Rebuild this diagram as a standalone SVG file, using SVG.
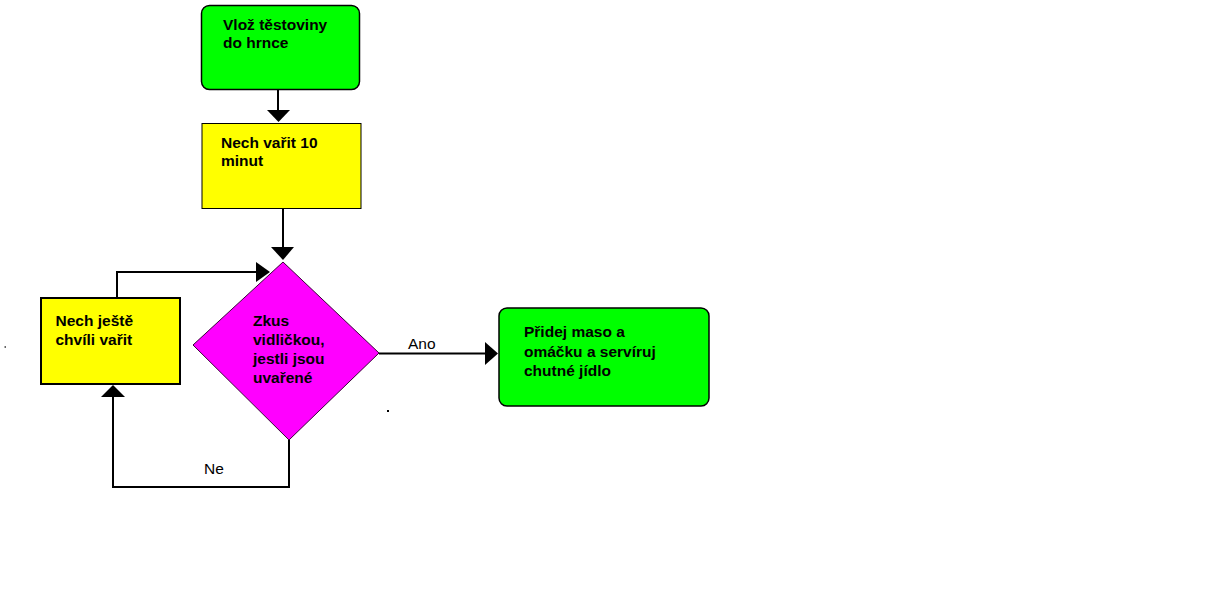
<svg xmlns="http://www.w3.org/2000/svg" width="1217" height="607" viewBox="0 0 1217 607">
  <defs>
    <style>
      .lbl { font-family: "Liberation Sans", Arial, sans-serif; font-size: 15.5px; fill: #000; }
      .bold { font-weight: bold; }
      .wire { fill: none; stroke: #000; stroke-width: 2; }
      .head { fill: #000; }
      .start { fill: #00ff00; stroke: #000; stroke-width: 1.5; }
      .step { fill: #ffff00; stroke: #000; }
      .check { fill: #ff00ff; stroke: #3a003a; stroke-width: 1; }
    </style>
  </defs>
  <rect width="1217" height="607" fill="#fff"/>

  <!-- connectors (drawn first so the decision shape overlaps its incoming head) -->
  <g id="connectors">
    <line class="wire" x1="278" y1="90" x2="278" y2="112"/>
    <polygon class="head" points="267,110 290,110 278.5,122"/>

    <line class="wire" x1="283" y1="209" x2="283" y2="249"/>
    <polygon class="head" points="271,247 294,247 283,260"/>

    <polyline class="wire" points="117,298 117,272 258,272"/>
    <polygon class="head" points="256,262 256,282 270,272"/>

    <polyline class="wire" points="289,440 289,487 113,487 113,395"/>
    <polygon class="head" points="101,397 125,397 113,385"/>

    <line class="wire" x1="379" y1="353.5" x2="487" y2="353.5"/>
    <polygon class="head" points="485,342 485,365 498,353.5"/>

    <text class="lbl" x="408" y="349">Ano</text>
    <text class="lbl" x="204" y="474">Ne</text>
  </g>

  <g id="node-start">
    <rect class="start" x="201.5" y="5.5" width="158" height="84" rx="8"/>
    <text class="lbl bold" x="223" y="30">Vlož těstoviny</text>
    <text class="lbl bold" x="223" y="48">do hrnce</text>
  </g>

  <g id="node-boil">
    <rect class="step" x="202" y="123.5" width="159" height="85"/>
    <text class="lbl bold" x="221" y="147.5">Nech vařit 10</text>
    <text class="lbl bold" x="221" y="165.5">minut</text>
  </g>

  <g id="node-check">
    <polygon class="check" points="283,262 379,353 289,440 193,345"/>
    <text class="lbl bold" x="253" y="326">Zkus</text>
    <text class="lbl bold" x="253" y="345">vidličkou,</text>
    <text class="lbl bold" x="253" y="364">jestli jsou</text>
    <text class="lbl bold" x="253" y="382.5">uvařené</text>
  </g>

  <g id="node-boil-more">
    <rect class="step" x="41" y="298" width="139" height="86" stroke-width="2"/>
    <text class="lbl bold" x="55.5" y="326">Nech ještě</text>
    <text class="lbl bold" x="55.5" y="344.5">chvíli vařit</text>
  </g>

  <g id="node-serve">
    <rect class="start" x="499" y="308" width="210" height="98" rx="8" stroke-width="2"/>
    <text class="lbl bold" x="524" y="337">Přidej maso a</text>
    <text class="lbl bold" x="524" y="356.5">omáčku a servíruj</text>
    <text class="lbl bold" x="524" y="376">chutné jídlo</text>
  </g>

  <!-- stray specks -->
  <rect x="4.5" y="346" width="1.5" height="2" fill="#666"/>
  <rect x="387" y="410" width="2" height="2" fill="#000"/>
</svg>
